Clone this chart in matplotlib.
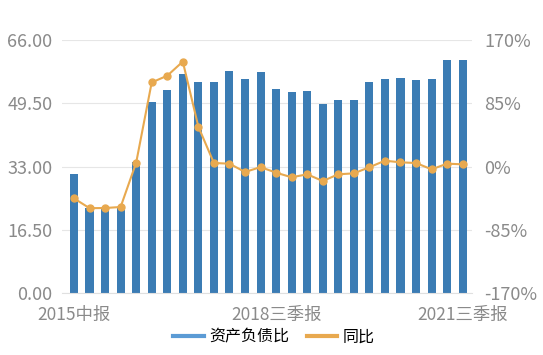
import matplotlib.pyplot as plt
import numpy as np
from matplotlib.lines import Line2D

plt.rcParams['font.family'] = ['Noto Sans CJK SC', 'DejaVu Sans']

# 报告期 (2015中报 ... 2021三季报)
periods = []
for yr in range(2015, 2022):
    for q, name in enumerate(["一季报", "中报", "三季报", "年报"]):
        if (yr == 2015 and q < 1) or (yr == 2021 and q > 2):
            continue
        periods.append(f"{yr}{name}")

debt_ratio = [31.0, 22.2, 22.3, 22.5, 34.3, 49.9, 53.0, 57.1, 55.0, 55.0,
              57.9, 55.8, 57.6, 53.2, 52.5, 52.8, 49.4, 50.4, 50.4, 55.0,
              55.8, 56.1, 55.6, 55.7, 60.7, 60.7]
yoy = [-42.8, -56.0, -55.8, -54.4, 5.1, 113.0, 122.0, 141.0, 53.5, 4.7,
       3.8, -7.4, -0.8, -8.3, -14.5, -10.5, -19.5, -10.5, -9.2, -1.0,
       7.8, 5.6, 4.7, -3.8, 3.8, 2.9]
shown_ticks = ["2015中报", "2018三季报", "2021三季报"]

bar_color = "#3b7cb4"
line_color = "#e8a94f"
text_color = "#8a8a8a"

fig = plt.figure(figsize=(5.43, 3.55), dpi=100)
ax = fig.add_axes([62 / 543, 1 - 293 / 355, 410 / 543, 253 / 355])
x = np.arange(len(periods))
ax.bar(x, debt_ratio, width=0.52, color=bar_color, zorder=2)
ax.set_ylim(0, 66)
ax.set_yticks([0, 16.5, 33, 49.5, 66])
ax.set_yticklabels(["0.00", "16.50", "33.00", "49.50", "66.00"])
ax.set_xlim(-0.77, 25.6)
ax.grid(axis="y", color="#e6e6e6", lw=0.8, zorder=0)
for s in ax.spines.values():
    s.set_visible(False)
ax.spines["bottom"].set_visible(True)
ax.spines["bottom"].set_color("#e0e0e0")
ax.tick_params(axis="y", length=0, labelsize=13, colors=text_color, pad=7)
ax.set_xticks([periods.index(p) for p in shown_ticks])
ax.set_xticklabels(shown_ticks)
ax.tick_params(axis="x", length=0, labelsize=12.5, colors=text_color, pad=9)

ax2 = ax.twinx()
ax2.plot(x, yoy, color=line_color, lw=1.5, marker="o", markersize=5, zorder=3)
ax2.set_ylim(-170, 170)
ax2.set_yticks([-170, -85, 0, 85, 170])
ax2.set_yticklabels(["-170%", "-85%", "0%", "85%", "170%"])
for s in ax2.spines.values():
    s.set_visible(False)
ax2.tick_params(axis="y", length=0, labelsize=13, colors=text_color, pad=9)

handles = [Line2D([], [], color="#5b9bd5", lw=3), Line2D([], [], color=line_color, lw=3)]
fig.legend(handles, ["资产负债比", "同比"], loc="center", bbox_to_anchor=(0.505, 1 - 337 / 355),
           ncol=2, frameon=False, fontsize=11.5, handlelength=1.9, columnspacing=1.1,
           handletextpad=0.35)

fig.savefig("out.png", dpi=100)
